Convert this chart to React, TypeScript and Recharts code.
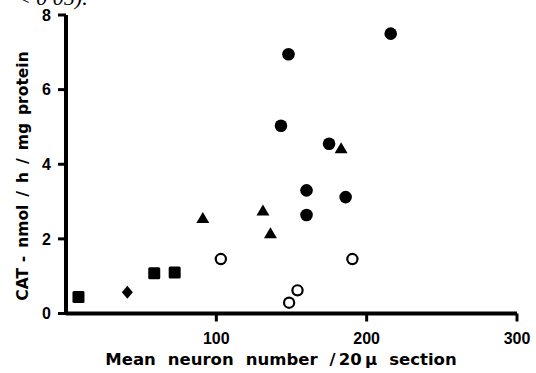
import { ScatterChart, Scatter, XAxis, YAxis } from 'recharts'

// values: mean neuron number (x) vs CAT activity (y)
const filledCircleX = [216, 148, 143, 175, 160, 186, 160]
const filledCircleY = [7.5, 6.95, 5.03, 4.55, 3.3, 3.12, 2.64]
const triangleX = [183, 131, 91, 136]
const triangleY = [4.43, 2.76, 2.56, 2.15]
const openCircleX = [103, 190.5, 154, 148.4]
const openCircleY = [1.46, 1.46, 0.62, 0.29]
const squareX = [8.3, 58.7, 72.3]
const squareY = [0.44, 1.08, 1.1]
const diamondX = [40.8]
const diamondY = [0.57]

const xTicks = [100, 200, 300]
const yTicks = [0, 2, 4, 6, 8]

// axis titles, word by word (the print sets them with wide gaps)
const xTitleWords = ['Mean', 'neuron', 'number', '/\u200920\u2009\u00b5', 'section']
const yTitleWords = ['CAT', '-', 'nmol', '/', 'h', '/', 'mg', 'protein']
const CAPTION = '< 0\u00b705).'

const zip = (xs: number[], ys: number[]) => xs.map((x, i) => ({ x, y: ys[i] }))

const INK = '#000000'
const tickFont = { fontFamily: '"Liberation Sans", Arial, sans-serif', fontWeight: 700, fontSize: 16 }
const titleFont = { fontFamily: '"DejaVu Sans", sans-serif', fontWeight: 700 }

// ─── marker shapes ───────────────────────────────────────────────────────────
const FilledCircle = ({ cx, cy }: any) => <circle cx={cx} cy={cy} r={6.3} fill={INK} />
const OpenCircle = ({ cx, cy }: any) => (
  <circle cx={cx} cy={cy} r={5.1} fill="#fff" stroke={INK} strokeWidth={2.2} />
)
const Triangle = ({ cx, cy }: any) => (
  <polygon points={`${cx},${cy - 6} ${cx + 6.5},${cy + 5} ${cx - 6.5},${cy + 5}`} fill={INK} />
)
const Square = ({ cx, cy }: any) => (
  <rect x={cx - 6} y={cy - 6} width={12} height={12} rx={1.5} fill={INK} />
)
const Diamond = ({ cx, cy }: any) => (
  <polygon points={`${cx},${cy - 6.5} ${cx + 5.5},${cy} ${cx},${cy + 6.5} ${cx - 5.5},${cy}`} fill={INK} />
)

const words = (list: string[], gap: number) =>
  list.map((w, i) => (
    <tspan key={i} dx={i === 0 ? 0 : gap}>
      {w}
    </tspan>
  ))

export default function App() {
  return (
    <div style={{ position: 'absolute', left: 0, top: 0, width: 536, height: 373, background: '#fff' }}>
      <ScatterChart width={536} height={373} margin={{ top: 15, right: 19, bottom: 0, left: 0 }}>
        <XAxis
          type="number"
          dataKey="x"
          domain={[0, 300]}
          ticks={xTicks}
          height={59.5}
          stroke={INK}
          axisLine={{ strokeWidth: 4 }}
          tickLine={{ strokeWidth: 3 }}
          tickSize={8}
          tick={{ fill: INK, dy: 9, ...tickFont }}
        />
        <YAxis
          type="number"
          dataKey="y"
          domain={[0, 8]}
          ticks={yTicks}
          width={66}
          stroke={INK}
          axisLine={{ strokeWidth: 4 }}
          tickLine={{ strokeWidth: 3 }}
          tickSize={8}
          tick={{ fill: INK, dx: -5, ...tickFont }}
        />
        <Scatter data={zip(filledCircleX, filledCircleY)} shape={FilledCircle} isAnimationActive={false} />
        <Scatter data={zip(triangleX, triangleY)} shape={Triangle} isAnimationActive={false} />
        <Scatter data={zip(openCircleX, openCircleY)} shape={OpenCircle} isAnimationActive={false} />
        <Scatter data={zip(squareX, squareY)} shape={Square} isAnimationActive={false} />
        <Scatter data={zip(diamondX, diamondY)} shape={Diamond} isAnimationActive={false} />
      </ScatterChart>

      {/* titles and the clipped caption line above the figure */}
      <svg
        width={536}
        height={373}
        style={{ position: 'absolute', left: 0, top: 0, pointerEvents: 'none' }}
      >
        <text x={16} y={5} fill={INK} fontFamily='"Liberation Serif", serif' fontStyle="italic" fontSize={22}>
          {CAPTION}
        </text>
        <text x={281} y={365} textAnchor="middle" fill={INK} fontSize={16.5} {...titleFont}>
          {words(xTitleWords, 12)}
        </text>
        <text
          x={28}
          y={176}
          transform="rotate(-90 28 176)"
          textAnchor="middle"
          fill={INK}
          fontSize={15.5}
          {...titleFont}
        >
          {words(yTitleWords, 8)}
        </text>
      </svg>
    </div>
  )
}
